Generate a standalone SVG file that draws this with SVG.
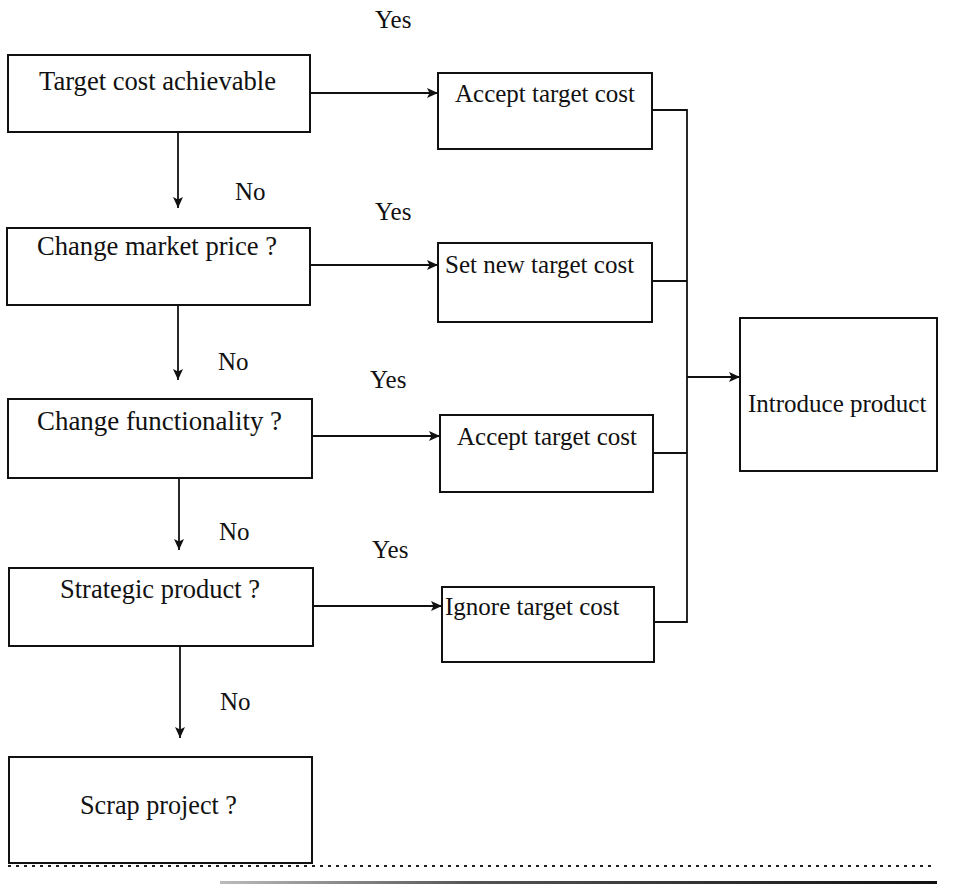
<svg xmlns="http://www.w3.org/2000/svg" width="978" height="888" viewBox="0 0 978 888">
<style>
.box{fill:#fff;stroke:#111;stroke-width:2}
.t{font-family:"Liberation Serif","Times New Roman",serif;font-size:25px;fill:#111}
.L{font-size:26.5px}
.c{fill:none;stroke:#111;stroke-width:1.8}
</style>
<defs>
<marker id="ah" markerUnits="userSpaceOnUse" markerWidth="12" markerHeight="11" refX="11" refY="5.5" orient="auto">
<path d="M0,0.5 L11,5.5 L0,10.5 L2.5,5.5 z" fill="#111"/>
</marker>
<linearGradient id="fade" x1="0" y1="0" x2="1" y2="0">
<stop offset="0" stop-color="#bbb"/>
<stop offset="0.35" stop-color="#555"/>
<stop offset="1" stop-color="#111"/>
</linearGradient>
</defs>
<rect width="978" height="888" fill="#fff"/>

<g id="connectors">
<line class="c" x1="310" y1="93" x2="438" y2="93" marker-end="url(#ah)"/>
<line class="c" x1="310" y1="265" x2="438" y2="265" marker-end="url(#ah)"/>
<line class="c" x1="312" y1="436" x2="440" y2="436" marker-end="url(#ah)"/>
<line class="c" x1="313" y1="606" x2="442" y2="606" marker-end="url(#ah)"/>
<line class="c" x1="178" y1="132" x2="178" y2="208" marker-end="url(#ah)"/>
<line class="c" x1="178" y1="305" x2="178" y2="380" marker-end="url(#ah)"/>
<line class="c" x1="179" y1="478" x2="179" y2="550" marker-end="url(#ah)"/>
<line class="c" x1="180" y1="646" x2="180" y2="738" marker-end="url(#ah)"/>
<polyline class="c" points="652,110 687,110 687,622 654,622"/>
<line class="c" x1="652" y1="281" x2="687" y2="281"/>
<line class="c" x1="653" y1="453" x2="687" y2="453"/>
<line class="c" x1="687" y1="377" x2="740" y2="377" marker-end="url(#ah)"/>
</g>

<g id="labels">
<text class="t" x="375" y="28">Yes</text>
<text class="t" x="235" y="200">No</text>
<text class="t" x="375" y="220">Yes</text>
<text class="t" x="218" y="370">No</text>
<text class="t" x="370" y="388">Yes</text>
<text class="t" x="219" y="540">No</text>
<text class="t" x="372" y="558">Yes</text>
<text class="t" x="220" y="710">No</text>
</g>

<g id="n1"><rect class="box" x="8" y="55" width="302" height="77"/><text class="t L" x="39" y="90" textLength="237" lengthAdjust="spacingAndGlyphs">Target cost achievable</text></g>
<g id="n2"><rect class="box" x="7" y="228" width="303" height="77"/><text class="t L" x="37" y="255" textLength="240" lengthAdjust="spacingAndGlyphs">Change market price ?</text></g>
<g id="n3"><rect class="box" x="8" y="399" width="304" height="79"/><text class="t L" x="37" y="430" textLength="245" lengthAdjust="spacingAndGlyphs">Change functionality ?</text></g>
<g id="n4"><rect class="box" x="9" y="568" width="304" height="78"/><text class="t L" x="60" y="598" textLength="200" lengthAdjust="spacingAndGlyphs">Strategic product ?</text></g>
<g id="n5"><rect class="box" x="9" y="757" width="303" height="106"/><text class="t L" x="80" y="814" textLength="157" lengthAdjust="spacingAndGlyphs">Scrap project ?</text></g>
<g id="a1"><rect class="box" x="438" y="73" width="214" height="76"/><text class="t" x="455" y="102">Accept target cost</text></g>
<g id="s1"><rect class="box" x="438" y="243" width="214" height="79"/><text class="t" x="445" y="273">Set new target cost</text></g>
<g id="a2"><rect class="box" x="440" y="415" width="213" height="77"/><text class="t" x="457" y="445">Accept target cost</text></g>
<g id="i1"><rect class="box" x="442" y="587" width="212" height="75"/><text class="t" x="445" y="615">Ignore target cost</text></g>
<g id="intro"><rect class="box" x="740" y="318" width="197" height="153"/><text class="t" x="748" y="412">Introduce product</text></g>

<g id="rules">
<line x1="8" y1="866" x2="933" y2="866" stroke="#222" stroke-width="2" stroke-dasharray="3 5"/>
<rect x="220" y="881" width="717" height="3" fill="url(#fade)"/>
</g>
</svg>
